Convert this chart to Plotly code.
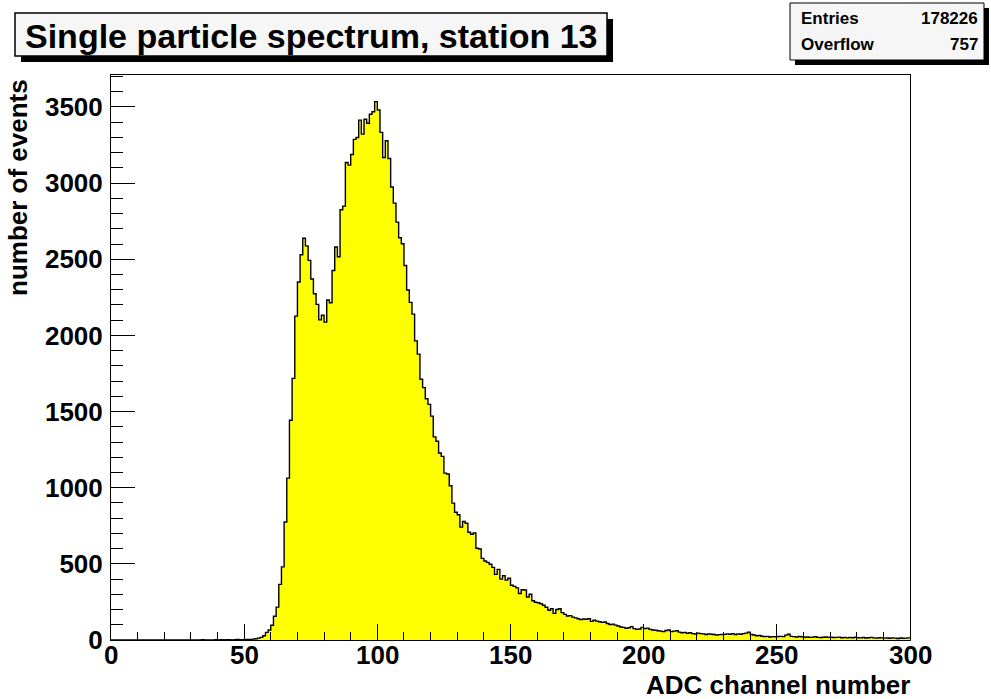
import plotly.graph_objects as go

# ---------------- data ----------------
x_min = 0
x_max = 300
bin_width = 1

counts_000_049 = [0, 0, 0, 0, 0, 0, 0, 0, 0, 0,
                  0, 0, 0, 0, 0, 1, 0, 0, 1, 0,
                  0, 1, 0, 1, 1, 0, 1, 0, 1, 1,
                  1, 0, 1, 1, 2, 1, 1, 0, 1, 2,
                  1, 2, 1, 2, 2, 1, 2, 3, 2, 2]
counts_050_099 = [3, 4, 4, 6, 8, 12, 17, 28, 50, 66,
                  97, 156, 216, 365, 480, 775, 1063, 1443, 1718, 2127,
                  2351, 2530, 2638, 2588, 2493, 2370, 2274, 2204, 2102, 2132,
                  2087, 2233, 2215, 2426, 2581, 2517, 2825, 2849, 3135, 3118,
                  3188, 3287, 3300, 3414, 3322, 3419, 3393, 3452, 3469, 3535]
counts_100_149 = [3480, 3333, 3168, 3278, 3162, 2975, 2869, 2744, 2641, 2602,
                  2459, 2298, 2217, 2140, 1964, 1877, 1712, 1657, 1584, 1547,
                  1470, 1334, 1305, 1228, 1206, 1096, 1090, 1013, 899, 839,
                  822, 741, 778, 767, 708, 694, 703, 602, 598, 536,
                  519, 510, 497, 477, 431, 464, 400, 422, 393, 405]
counts_150_199 = [360, 352, 342, 305, 330, 328, 282, 300, 258, 248,
                  245, 238, 228, 215, 195, 205, 175, 200, 205, 180,
                  168, 158, 160, 150, 145, 140, 134, 138, 136, 140,
                  122, 130, 124, 120, 116, 118, 108, 102, 104, 98,
                  92, 85, 83, 77, 80, 88, 75, 70, 72, 83]
counts_200_249 = [75, 78, 70, 66, 64, 61, 58, 55, 62, 66,
                  55, 58, 61, 52, 48, 50, 44, 48, 42, 39,
                  45, 42, 40, 36, 40, 38, 36, 32, 35, 36,
                  37, 40, 38, 42, 36, 40, 38, 42, 45, 52,
                  36, 33, 28, 30, 25, 22, 24, 20, 22, 21]
counts_250_299 = [23, 24, 22, 32, 38, 24, 22, 20, 23, 21,
                  18, 20, 17, 19, 21, 17, 16, 18, 20, 17,
                  18, 16, 17, 19, 15, 17, 14, 16, 15, 18,
                  15, 14, 16, 13, 15, 17, 14, 12, 15, 14,
                  12, 13, 11, 14, 12, 10, 13, 11, 12, 14]

counts = (counts_000_049 + counts_050_099 + counts_100_149 +
          counts_150_199 + counts_200_249 + counts_250_299)

x_ticks = [0, 50, 100, 150, 200, 250, 300]
x_tick_labels = ["0", "50", "100", "150", "200", "250", "300"]
y_ticks = [0, 500, 1000, 1500, 2000, 2500, 3000, 3500]
y_tick_labels = ["0", "500", "1000", "1500", "2000", "2500", "3000", "3500"]
y_max = 3710

title_text = "Single particle spectrum, station 13"
stats_labels = ["Entries", "Overflow"]
stats_values = ["178226", "757"]
x_title = "ADC channel number"
y_title = "number of events"

# ---------------- layout geometry (pixels) ----------------
W, H = 991, 699
L, R, T, B = 111, 910, 75, 640


def px(xp):
    return (xp - L) / (R - L)


def py(yp):
    return (B - yp) / (B - T)


FONT = "Liberation Sans, Arial, Helvetica, sans-serif"

edges = [x_min + i * bin_width for i in range(len(counts) + 1)]
step_y = counts + [counts[-1]]

fig = go.Figure()
fig.add_trace(go.Scatter(
    x=edges, y=step_y, mode="lines",
    line=dict(shape="hv", color="black", width=1.4),
    fill="tozeroy", fillcolor="#ffff00",
    hoverinfo="skip", showlegend=False,
))

tickfont = dict(family=FONT, size=26, color="black", weight="bold")

fig.update_xaxes(
    range=[x_min, x_max], tickvals=x_ticks, showticklabels=False,
    ticks="inside", ticklen=16, tickwidth=1, tickcolor="black",
    minor=dict(dtick=10, ticks="inside", ticklen=8, tickwidth=1, tickcolor="black"),
    showline=True, linecolor="black", linewidth=1, mirror=True,
    showgrid=False, zeroline=False,
)
fig.update_yaxes(
    range=[0, y_max], tickvals=y_ticks, ticktext=y_tick_labels,
    ticks="inside", ticklen=24, tickwidth=1, tickcolor="black",
    minor=dict(dtick=100, ticks="inside", ticklen=12, tickwidth=1, tickcolor="black"),
    showline=True, linecolor="black", linewidth=1, mirror=True,
    showgrid=False, zeroline=False, tickfont=tickfont, ticklabelstandoff=2,
)

shapes = []
annotations = []

# x tick labels placed on the x axis scale
for v, lab in zip(x_ticks, x_tick_labels):
    annotations.append(dict(text=lab, xref="x", yref="paper", x=v, y=py(655),
                            xanchor="center", yanchor="middle", showarrow=False,
                            font=tickfont))

# title box with shadow
tb = (15, 13, 607, 56)
sh = 6
shapes.append(dict(type="rect", xref="paper", yref="paper",
                   x0=px(tb[0] + sh), x1=px(tb[2] + sh), y0=py(tb[3] + sh), y1=py(tb[1] + sh),
                   fillcolor="black", line=dict(width=0), layer="above"))
shapes.append(dict(type="rect", xref="paper", yref="paper",
                   x0=px(tb[0]), x1=px(tb[2]), y0=py(tb[3]), y1=py(tb[1]),
                   fillcolor="#f6f6f6", line=dict(color="black", width=1.5), layer="above"))
annotations.append(dict(text=title_text, xref="paper", yref="paper",
                        x=px((tb[0] + tb[2]) / 2), y=py((tb[1] + tb[3]) / 2 + 1),
                        xanchor="center", yanchor="middle", showarrow=False,
                        font=dict(family=FONT, size=34, color="black", weight="bold")))

# stats box with shadow
sb = (790, 3, 984, 60)
sh2 = 5
shapes.append(dict(type="rect", xref="paper", yref="paper",
                   x0=px(sb[0] + sh2), x1=px(sb[2] + sh2), y0=py(sb[3] + sh2), y1=py(sb[1] + sh2),
                   fillcolor="black", line=dict(width=0), layer="above"))
shapes.append(dict(type="rect", xref="paper", yref="paper",
                   x0=px(sb[0]), x1=px(sb[2]), y0=py(sb[3]), y1=py(sb[1]),
                   fillcolor="#f6f6f6", line=dict(color="black", width=1), layer="above"))
row_y = [19, 45]
for lab, val, yy in zip(stats_labels, stats_values, row_y):
    annotations.append(dict(text=lab, xref="paper", yref="paper", x=px(799), y=py(yy),
                            xanchor="left", yanchor="middle", showarrow=False,
                            font=dict(family=FONT, size=17, color="black", weight="bold")))
    annotations.append(dict(text=val, xref="paper", yref="paper", x=px(980), y=py(yy),
                            xanchor="right", yanchor="middle", showarrow=False,
                            font=dict(family=FONT, size=17, color="black", weight="bold")))

# axis titles
annotations.append(dict(text=x_title, xref="paper", yref="paper", x=px(912), y=py(685),
                        xanchor="right", yanchor="middle", showarrow=False,
                        font=dict(family=FONT, size=26, color="black", weight="bold")))
annotations.append(dict(text=y_title, xref="paper", yref="paper", x=px(18), y=py(188),
                        xanchor="center", yanchor="middle", textangle=-90, showarrow=False,
                        font=dict(family=FONT, size=26, color="black", weight="bold")))

fig.update_layout(
    width=W, height=H,
    margin=dict(l=L, r=W - R, t=T, b=H - B, pad=0),
    paper_bgcolor="white", plot_bgcolor="white",
    shapes=shapes, annotations=annotations, showlegend=False,
)

fig.write_html("out.html")
